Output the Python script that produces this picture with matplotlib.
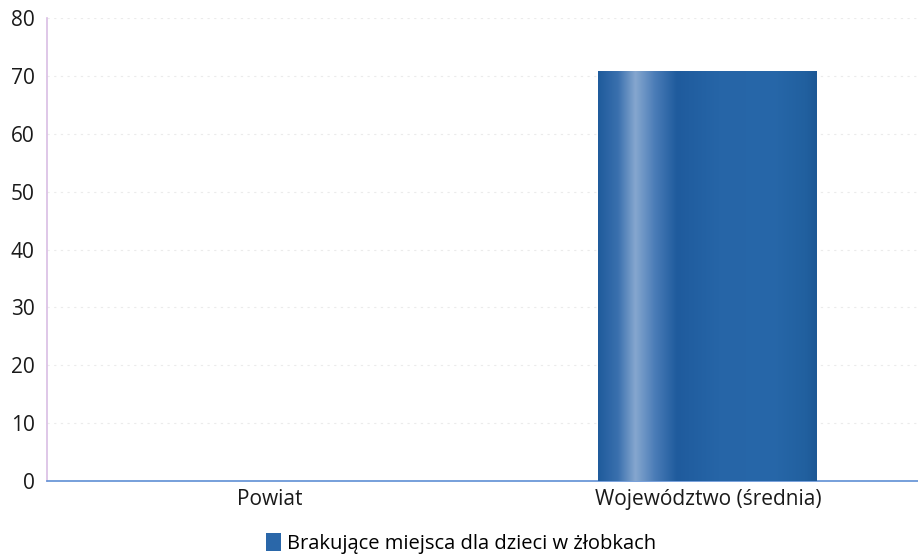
import numpy as np
import matplotlib
matplotlib.use("Agg")
import matplotlib.pyplot as plt
from matplotlib.colors import LinearSegmentedColormap
from matplotlib.patches import Rectangle

# -----------------------------
# Data
# -----------------------------
categories = ["Powiat", "Województwo (średnia)"]
values = [0, 70.8]
series_label = "Brakujące miejsca dla dzieci w żłobkach"

plt.rcParams["font.family"] = ["Open Sans", "DejaVu Sans"]

# gradient for the bar (dark - light streak - dark)
grad = LinearSegmentedColormap.from_list("bar_grad", [
    (0.00, "#1f5b9c"),
    (0.09, "#3a70ae"),
    (0.17, "#86a7cf"),
    (0.26, "#4a7cb7"),
    (0.36, "#1f5b9d"),
    (0.55, "#2665a7"),
    (0.80, "#2767a9"),
    (0.95, "#21609f"),
    (1.00, "#1d5895"),
])

fig = plt.figure(figsize=(9.18, 5.6), dpi=100)
ax = fig.add_axes([47 / 918, 79 / 560, 871 / 918, 463 / 560])

x = np.arange(len(categories))
bars = ax.bar(x, values, width=0.5, color="#2465a8", zorder=2)

# paint gradient inside each bar
g = np.linspace(0, 1, 256).reshape(1, -1)
for b in bars:
    if b.get_height() <= 0:
        continue
    x0, y0 = b.get_x(), b.get_y()
    w, h = b.get_width(), b.get_height()
    im = ax.imshow(g, cmap=grad, aspect="auto", extent=[x0, x0 + w, y0, y0 + h],
                   zorder=3, interpolation="bicubic")
    im.set_clip_path(b)

ax.set_xlim(-0.51, 1.48)
ax.set_ylim(0, 80)
ax.set_yticks(range(0, 81, 10))
ax.set_xticks(x)
ax.set_xticklabels(categories, fontsize=15, color="#1a1a1a")
ax.tick_params(axis="y", labelsize=15, colors="#1a1a1a", length=0, pad=9)
ax.tick_params(axis="x", length=0, pad=6)

# faint dotted grid
ax.grid(axis="y", color="#ebebeb", linestyle=(0, (2, 4)), linewidth=0.8, zorder=0)
ax.set_axisbelow(True)

for side in ["top", "right"]:
    ax.spines[side].set_visible(False)
ax.spines["left"].set_color("#d9bde4")
ax.spines["left"].set_linewidth(1.2)
ax.spines["bottom"].set_color("#5f8fd4")
ax.spines["bottom"].set_linewidth(1.2)

# legend
handle = Rectangle((0, 0), 1, 1, facecolor="#2a67a9", edgecolor="none")
fig.legend([handle], [series_label], loc="center", bbox_to_anchor=(0.502, 0.03),
           frameon=False, fontsize=14.5, handlelength=0.75, handleheight=1.0,
           handletextpad=0.3)

fig.savefig("out.png", dpi=100)
